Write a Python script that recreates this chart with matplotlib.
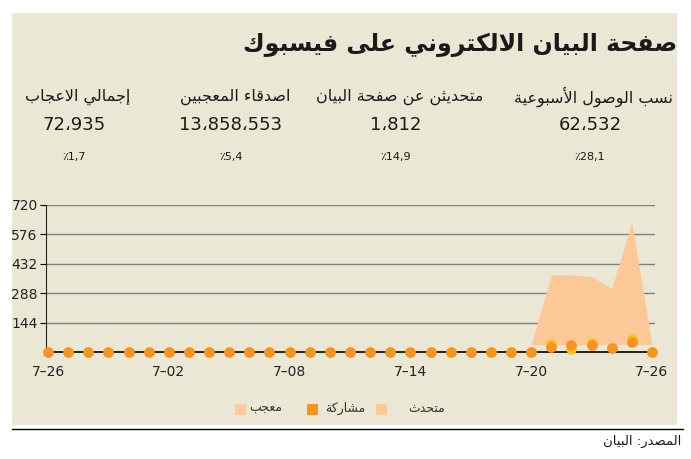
import matplotlib
matplotlib.use("Agg")
import matplotlib.pyplot as plt
from matplotlib.patches import Rectangle

# البيانات
days = list(range(31))
tick_pos = [0, 6, 12, 18, 24, 30]
tick_labels = ["7–26", "7–02", "7–08", "7–14", "7–20", "7–26"]
y_ticks = [144, 288, 432, 576, 720]

speakers = [None] * 24 + [37, 377, 377, 369, 312, 636, 37]   # متحدث
fans_low = [None] * 24 + [37, 37, 37, 37, 37, 37, 37]        # معجب
shares = [0] * 25 + [26, 32, 32, 19, 50, 0]                  # مشاركة
likes = [None] * 25 + [40, 16, 45, None, 66, None]

stat_titles = ["نسب الوصول الأسبوعية", "متحديثن عن صفحة البيان", "اصدقاء المعجبين", "إجمالي الاعجاب"]
stat_values = ["62،532", "1،812", "13،858،553", "72،935"]
stat_pct = ["٪28,1", "٪14,9", "٪5,4", "٪1,7"]

title = "صفحة البيان الالكتروني على فيسبوك"
legend_names = ["متحدث", "مشاركة", "معجب"]
legend_colors = ["#FDC898", "#F7941D", "#FDCB9E"]
source = "المصدر: البيان"

# تشكيل الحروف العربية (matplotlib لا يقوم بذلك)
DUAL = {"ئ": 0xFE89, "ب": 0xFE8F, "ت": 0xFE95, "ث": 0xFE99, "ج": 0xFE9D, "ح": 0xFEA1,
        "خ": 0xFEA5, "س": 0xFEB1, "ش": 0xFEB5, "ص": 0xFEB9, "ض": 0xFEBD, "ط": 0xFEC1,
        "ظ": 0xFEC5, "ع": 0xFEC9, "غ": 0xFECD, "ف": 0xFED1, "ق": 0xFED5, "ك": 0xFED9,
        "ل": 0xFEDD, "م": 0xFEE1, "ن": 0xFEE5, "ه": 0xFEE9, "ي": 0xFEF1}
RIGHT = {"آ": 0xFE81, "أ": 0xFE83, "ؤ": 0xFE85, "إ": 0xFE87, "ا": 0xFE8D, "ة": 0xFE93,
         "د": 0xFEA9, "ذ": 0xFEAB, "ر": 0xFEAD, "ز": 0xFEAF, "و": 0xFEED, "ى": 0xFEEF}
LAM_ALEF = {"آ": 0xFEF5, "أ": 0xFEF7, "إ": 0xFEF9, "ا": 0xFEFB}


def ar(text):
    chars = []
    i = 0
    while i < len(text):
        if text[i] == "ل" and i + 1 < len(text) and text[i + 1] in LAM_ALEF:
            chars.append(("LA", text[i + 1]))
            i += 2
        else:
            chars.append((text[i], None))
            i += 1

    def joins(c):
        return c[0] == "LA" or c[0] in DUAL or c[0] in RIGHT

    out = []
    for k, c in enumerate(chars):
        prev_ok = k > 0 and chars[k - 1][0] in DUAL
        next_ok = k + 1 < len(chars) and joins(chars[k + 1])
        if c[0] == "LA":
            out.append(chr(LAM_ALEF[c[1]] + (1 if prev_ok else 0)))
        elif c[0] in DUAL:
            b = DUAL[c[0]]
            if prev_ok and next_ok:
                out.append(chr(b + 3))
            elif prev_ok:
                out.append(chr(b + 1))
            elif next_ok:
                out.append(chr(b + 2))
            else:
                out.append(chr(b))
        elif c[0] in RIGHT:
            out.append(chr(RIGHT[c[0]] + (1 if prev_ok else 0)))
        elif c[0] == "ء":
            out.append("\uFE80")
        else:
            out.append(c[0])
    return "".join(reversed(out))


def nan(vals):
    return [v if v is not None else float("nan") for v in vals]


plt.rcParams["font.family"] = ["DejaVu Sans"]
W, H = 691, 459


def fx(x):
    return x / W


def fy(y):
    return 1 - y / H


fig = plt.figure(figsize=(W / 100, H / 100), dpi=100)
fig.patch.set_facecolor("white")

bg = "#EAE7D4"
fig.add_artist(Rectangle((fx(12), fy(425)), 665 / W, 412 / H, transform=fig.transFigure,
                         facecolor=bg, edgecolor="none", zorder=-5))
fig.add_artist(plt.Line2D([fx(12), fx(683)], [fy(429), fy(429)],
                          transform=fig.transFigure, color="black", lw=1))

fig.text(fx(677), fy(45), ar(title), ha="right", va="center", fontsize=17, fontweight="bold", color="#1a1a1a")

cols = [594, 400, 235, 78]
for cx, t, v, p in zip(cols, stat_titles, stat_values, stat_pct):
    fig.text(fx(cx), fy(97), ar(t), ha="center", va="center", fontsize=11.5, color="#1a1a1a")
    fig.text(fx(cx - 4), fy(125), v, ha="center", va="center", fontsize=13, color="#1a1a1a")
    fig.text(fx(cx - 4), fy(157), p, ha="center", va="center", fontsize=8, color="#1a1a1a")

ax = fig.add_axes([fx(46), fy(352), (655 - 46) / W, (352 - 205) / H])
ax.set_zorder(2)
ax.patch.set_alpha(0)
ax.set_xlim(-0.1, 30.15)
ax.set_ylim(0, 720)

ax.fill_between(days, nan(fans_low), nan(speakers), color=legend_colors[0], lw=0, zorder=2)
ax.scatter(days, nan(likes), s=55, color="#FFC20E", zorder=3, clip_on=False, lw=0)
ax.scatter(days, shares, s=60, color=legend_colors[1], zorder=4, clip_on=False, lw=0)

ax.set_yticks(y_ticks)
ax.set_yticklabels([str(v) for v in y_ticks], fontsize=10, color="#222222")
ax.set_xticks(tick_pos)
ax.set_xticklabels(tick_labels, fontsize=10, color="#222222")
ax.tick_params(axis="x", length=0, pad=9)
ax.tick_params(axis="y", length=4, width=0.8, pad=2)
ax.grid(axis="y", color="#7F7F7F", lw=1)
ax.set_axisbelow(True)
for s in ["top", "right"]:
    ax.spines[s].set_visible(False)
ax.spines["left"].set_color("#222222")
ax.spines["bottom"].set_color("black")
ax.spines["bottom"].set_linewidth(1.2)
ax.spines["bottom"].set_zorder(2.5)

# وسيلة الإيضاح
leg_sq = [376, 307, 235]
leg_txt = [445, 365, 282]
for sx, tx, c, name in zip(leg_sq, leg_txt, legend_colors, legend_names):
    fig.add_artist(Rectangle((fx(sx), fy(415)), 11 / W, 11 / H, transform=fig.transFigure,
                             facecolor=c, edgecolor="none"))
    fig.text(fx(tx), fy(408), ar(name), ha="right", va="center", fontsize=9, color="#333333")

fig.text(fx(681), fy(441), ar(source), ha="right", va="center", fontsize=9.5, color="#1a1a1a")

fig.savefig("out.png", dpi=100, facecolor="white")
